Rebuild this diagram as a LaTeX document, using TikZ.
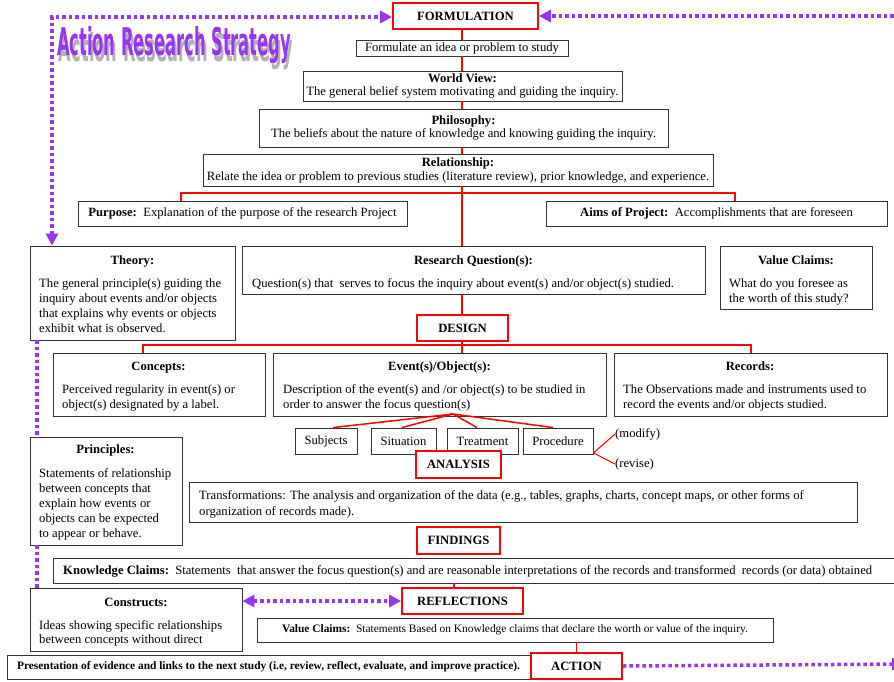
\documentclass[tikz,border=0pt]{standalone}
\usepackage{fontspec}
\setmainfont{Liberation Serif}
\newfontfamily\logofont{DejaVu Sans}
\usepackage{graphicx}
\usetikzlibrary{arrows.meta,shadows}
\definecolor{pcol}{RGB}{153,51,255}
\definecolor{pdark}{RGB}{90,20,170}
\newcommand\bodyfs{\fontsize{12.65}{15}\selectfont}
\tikzset{
  box/.style={draw=black!80, line width=0.9pt, fill=white, inner sep=0pt,
    drop shadow={shadow xshift=1.2pt, shadow yshift=-1.2pt, fill=black!40, opacity=1}},
  rbox/.style={draw=red, line width=1.8pt, fill=white, inner sep=0pt, font=\bfseries\bodyfs},
  ttl/.style={anchor=base, inner sep=0pt, font=\bfseries\bodyfs},
  body/.style={anchor=base west, inner sep=0pt, font=\bodyfs},
  rline/.style={draw=red, line width=1.5pt},
  pline/.style={draw=pcol, line width=3.5pt, dash pattern=on 3.5pt off 3pt},
  ptip/.style={-{Triangle[length=12pt,width=12pt]}},
  pboth/.style={{Triangle[length=12pt,width=12pt]}-{Triangle[length=12pt,width=12pt]}}
}
\begin{document}
\begin{tikzpicture}[x=1pt,y=-1pt]
\useasboundingbox (0,0) rectangle (894,681);
\clip (0,0) rectangle (894,681);

% logo (purple text with grey shadow)
\node[inner sep=0pt] (logo) at (174,48) {\resizebox{234pt}{29pt}{\logofont\bfseries\makebox[0pt][l]{\hspace{1.2pt}\raisebox{-1.6pt}{\color{black!30}Action Research Strategy}}\color{pcol}Action Research Strategy}};

% spine coordinates
\coordinate (spine) at (462,0);
\coordinate (pL) at (181,193);
\coordinate (pR) at (735,193);
\coordinate (dL) at (143,345);
\coordinate (dR) at (751,345);
\coordinate (kx) at (454,0);
\coordinate (lx) at (37,0);
\coordinate (tl) at (52,17);
\coordinate (tr) at (900,16);
\coordinate (br) at (904,664);
\coordinate (fork) at (453,414);

% boxes
\node[rbox, minimum width=145pt, minimum height=26pt] (form) at (465.5,16) {FORMULATION};
\node[box, minimum width=212pt, minimum height=16pt, font=\bodyfs] (formulate) at (462,48) {\raisebox{-1pt}{Formulate an idea or problem to study}};
\node[box, minimum width=319pt, minimum height=30pt, align=center, font=\fontsize{12.65}{13}\selectfont] (world) at (462.5,86) {\textbf{World View:}\\The general belief system motivating and guiding the inquiry.};
\node[box, minimum width=409pt, minimum height=38pt, align=center, font=\fontsize{12.65}{13}\selectfont] (philo) at (463.5,128) {\textbf{Philosophy:}\\The beliefs about the nature of knowledge and knowing guiding the inquiry.};
\node[box, minimum width=510pt, minimum height=32pt, align=center, font=\fontsize{12.65}{14}\selectfont] (rel) at (458,170) {\textbf{Relationship:}\\Relate the idea or problem to previous studies (literature review), prior knowledge, and experience.};
\node[box, minimum width=329pt, minimum height=25pt, font=\bodyfs] (purpose) at (242.5,213.5) {\textbf{Purpose:}\ \ Explanation of the purpose of the research Project};
\node[box, minimum width=341pt, minimum height=25pt, font=\bodyfs] (aims) at (716.5,213.5) {\textbf{Aims of Project:}\ \ Accomplishments that are foreseen};

\node[box, minimum width=205pt, minimum height=94pt] (theory) at (132.5,293) {};
\node[box, minimum width=463pt, minimum height=48pt] (rq) at (473.5,270) {};
\node[box, minimum width=152pt, minimum height=63pt] (vc) at (796,277.5) {};
\node[rbox, minimum width=91pt, minimum height=26pt] (design) at (462.5,328) {DESIGN};

\node[box, minimum width=212pt, minimum height=63pt] (concepts) at (159,384.5) {};
\node[box, minimum width=333pt, minimum height=63pt] (events) at (439.5,384.5) {};
\node[box, minimum width=273pt, minimum height=63pt] (records) at (750.5,384.5) {};

\node[box, minimum width=62pt, minimum height=26pt, font=\bodyfs] (subj) at (326,441) {Subjects};
\node[box, minimum width=65pt, minimum height=26pt, font=\bodyfs] (sit) at (403.5,441) {Situation};
\node[box, minimum width=71pt, minimum height=26pt, font=\bodyfs] (treat) at (482.5,441) {Treatment};
\node[box, minimum width=70pt, minimum height=26pt, font=\bodyfs] (proc) at (558,441) {Procedure};
\node[anchor=west, inner sep=0pt, font=\bodyfs] (modify) at (615,434) {(modify)};
\node[anchor=west, inner sep=0pt, font=\bodyfs] (revise) at (615,464) {(revise)};

\node[box, minimum width=152pt, minimum height=108pt] (principles) at (106,491) {};
\node[rbox, minimum width=85pt, minimum height=27pt] (analysis) at (458.5,464.5) {ANALYSIS};
\node[box, minimum width=668pt, minimum height=40pt] (trans) at (523,502) {};
\node[rbox, minimum width=83pt, minimum height=27pt] (findings) at (458.5,540.5) {FINDINGS};
\node[box, minimum width=852pt, minimum height=25pt] (kc) at (479,570.5) {};
\node[box, minimum width=212pt, minimum height=63pt] (constructs) at (136,619.5) {};
\node[rbox, minimum width=121pt, minimum height=26pt] (refl) at (462.5,601) {REFLECTIONS};
\node[box, minimum width=516pt, minimum height=24pt, font=\fontsize{11.4}{13}\selectfont] (vcb) at (515,630) {\textbf{Value Claims:}\ \ Statements Based on Knowledge claims that declare the worth or value of the inquiry.};
\node[box, minimum width=523pt, minimum height=24pt, font=\bfseries\fontsize{11.4}{13}\selectfont] (pres) at (268.5,667) {Presentation of evidence and links to the next study (i.e, review, reflect, evaluate, and improve practice).};
\node[rbox, minimum width=91pt, minimum height=26pt] (action) at (576.5,666) {ACTION};

% texts inside boxes
\node[ttl] (theoryT) at (132.5,264) {Theory:};
\node[body] (theoryB) at (39,287) {\parbox[t]{200pt}{\raggedright The general principle(s) guiding the\\inquiry about events and/or objects\\that explains why events or objects\\exhibit what is observed.}};
\node[ttl] (rqT) at (473.5,264) {Research Question(s):};
\node[body] (rqB) at (252,287) {Question(s) that\ \ serves to focus the inquiry about event(s) and/or object(s) studied.};
\node[ttl] (vcT) at (796,264) {Value Claims:};
\node[body] (vcB) at (729,287) {\parbox[t]{140pt}{\raggedright What do you foresee as\\the worth of this study?}};
\node[ttl] (conT) at (158.5,370) {Concepts:};
\node[body] (conB) at (62,393) {\parbox[t]{200pt}{\raggedright Perceived regularity in event(s) or\\object(s) designated by a label.}};
\node[ttl] (evT) at (439.5,370) {Event(s)/Object(s):};
\node[body] (evB) at (283,393) {\parbox[t]{320pt}{\raggedright Description of the event(s) and /or object(s) to be studied in\\order to answer the focus question(s)}};
\node[ttl] (recT) at (750,370) {Records:};
\node[body] (recB) at (623,393) {\parbox[t]{262pt}{\raggedright The Observations made and instruments used to\\record the events and/or objects studied.}};
\node[ttl] (prT) at (105.5,453) {Principles:};
\node[body] (prB) at (39,477) {\parbox[t]{140pt}{\raggedright Statements of relationship\\between concepts that\\explain how events or\\objects can be expected\\to appear or behave.}};
\node[body] (trB) at (199,499) {\parbox[t]{650pt}{\raggedright Transformations: The analysis and organization of the data (e.g., tables, graphs, charts, concept maps, or other forms of\\[1pt]organization of records made).}};
\node[anchor=west, inner sep=0pt, font=\bodyfs] (kcB) at (63,571) {\textbf{Knowledge Claims:}\ \ Statements\ \ that answer the focus question(s) and are reasonable interpretations of the records and transformed\ \ records (or data) obtained};
\node[ttl] (csT) at (136,606) {Constructs:};
\node[body] (csB) at (39,629) {\parbox[t]{200pt}{\raggedright Ideas showing specific relationships\\[-1pt]between concepts without direct}};

% red connectors
\draw[rline] (form.south -| spine) -- (formulate.north -| spine);
\draw[rline] (formulate.south -| spine) -- (world.north -| spine);
\draw[rline] (world.south -| spine) -- (philo.north -| spine);
\draw[rline] (philo.south -| spine) -- (rel.north -| spine);
\draw[rline] (rel.south -| spine) -- (rq.north -| spine);
\draw[rline] (pL |- purpose.north) -- (pL) -- (pR) -- (pR |- aims.north);
\draw[rline] (rq.south -| spine) -- (design.north -| spine);
\draw[rline] (design.south -| spine) -- (events.north -| spine);
\draw[rline] (dL |- concepts.north) -- (dL) -- (dR) -- (dR |- records.north);
\draw[rline] ([xshift=7pt]subj.north) -- (fork) -- ([xshift=-1.5pt]sit.north);
\draw[rline] ([xshift=-5.5pt]treat.north) -- (fork) -- ([xshift=-5pt]proc.north);
\draw[rline, line width=1pt] (modify.west) -- ([yshift=1.5pt]proc.south east) -- (revise.west);
\draw[rline] (kx |- kc.south) -- (kx |- refl.north);
\draw[rline, line width=1pt] (vcb.south -| action.north) -- (action.north);

% purple dotted connectors
\draw[pline, pboth] (theory.north -| tl) -- (tl) -- (form.west |- tl);
\draw[pline, ptip] (tr) -- (form.east);
\draw[pline] (lx |- theory.south) -- (lx |- principles.north);
\draw[pline] (lx |- principles.south) -- (lx |- constructs.north);
\draw[pline, pboth] (refl.west -| constructs.east) -- (refl.west);
\draw[pline, ptip] (action.east) -- (br);
\end{tikzpicture}
\end{document}
